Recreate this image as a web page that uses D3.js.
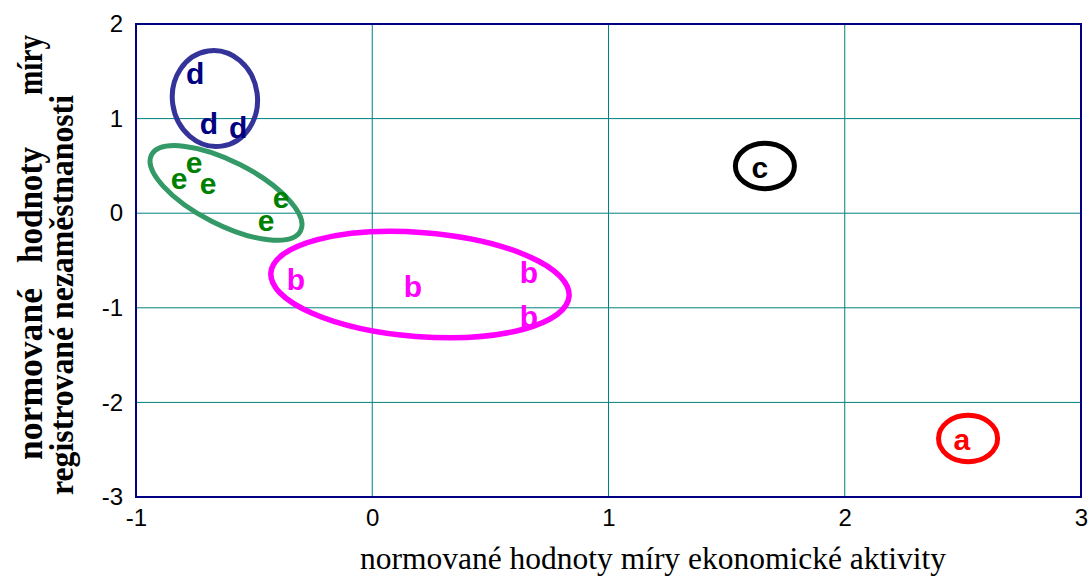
<!DOCTYPE html>
<html lang="cs">
<head>
<meta charset="UTF-8"/>
<title>normované hodnoty</title>
<script src="https://cdn.jsdelivr.net/npm/d3@7/dist/d3.min.js"></script>
<style>
  * { margin: 0; padding: 0; }
  body { background: #fff; width: 1089px; height: 576px; overflow: hidden; }
  svg { display: block; }
  .tick text { font-family: Arial, "Liberation Sans", sans-serif; font-size: 24px; fill: #000; }
  .lbl { font-family: Arial, "Liberation Sans", sans-serif; font-size: 30px; font-weight: bold; }
  .title { font-family: "Times New Roman", "Liberation Serif", serif; fill: #000; }
</style>
</head>
<body>
<div id="chart"></div>
<script>
// --- data ---

const xTicks = [-1, 0, 1, 2, 3]
const yTicks = [-3, -2, -1, 0, 1, 2]

// point labels: group letter + position (x = economic activity, y = unemployment)
const groupCols = { a: '#ff0000', b: '#ff00ff', c: '#000000', d: '#000080', e: '#008000' }
const ringCols  = { a: '#ff0000', b: '#ff00ff', c: '#000000', d: '#333399', e: '#339966' }

const pointGroup = ['d', 'd', 'd', 'e', 'e', 'e', 'e', 'e', 'b', 'b', 'b', 'b', 'c', 'a']
const pointX     = [-0.750, -0.691, -0.568, -0.818, -0.754, -0.695, -0.386, -0.449, -0.323, 0.172, 0.663, 0.663, 1.641, 2.496]
const pointY     = [1.482, 0.943, 0.911, 0.372, 0.541, 0.319, 0.171, -0.082, -0.706, -0.780, -0.632, -1.097, 0.478, -2.387]

// cluster rings: centre, half-extent in axis units, tilt in degrees
const ringGroup = ['d', 'e', 'b', 'c', 'a']
const ringCx    = [-0.666, -0.619, 0.202, 1.662, 2.522]
const ringCy    = [1.212, 0.214, -0.754, 0.499, -2.382]
const ringRx    = [0.180, 0.354, 0.633, 0.125, 0.125]
const ringRy    = [0.508, 0.335, 0.550, 0.240, 0.245]
const ringTilt  = [-8, 27, 4.5, 0, 0]

const xTitle  = 'normované hodnoty míry ekonomické aktivity'
const yTitle1 = ['normované', 'hodnoty', 'míry']
const yTitle2 = 'registrované nezaměstnanosti'

// --- chart ---

const W = 1089, H = 576
const svg = d3.select('#chart').append('svg').attr('width', W).attr('height', H)

const x = d3.scaleLinear().domain([-1, 3]).range([136, 1081])
const y = d3.scaleLinear().domain([-3, 2]).range([497, 24])

// grid
svg.append('g').selectAll('line')
  .data(xTicks.slice(1, -1))
  .join('line')
    .attr('x1', d => x(d)).attr('x2', d => x(d))
    .attr('y1', y(2)).attr('y2', y(-3))
    .attr('stroke', '#008080').attr('stroke-width', 1)

svg.append('g').selectAll('line')
  .data(yTicks.slice(1, -1))
  .join('line')
    .attr('x1', x(-1)).attr('x2', x(3))
    .attr('y1', d => y(d)).attr('y2', d => y(d))
    .attr('stroke', '#008080').attr('stroke-width', 1)

// frame
svg.append('rect')
  .attr('x', x(-1)).attr('y', y(2))
  .attr('width', x(3) - x(-1)).attr('height', y(-3) - y(2))
  .attr('fill', 'none').attr('stroke', '#000080').attr('stroke-width', 2)

// axes (labels only)
const gx = svg.append('g')
  .attr('transform', `translate(0,${y(-3)})`)
  .call(d3.axisBottom(x).tickValues(xTicks).tickSize(0).tickPadding(12).tickFormat(d3.format('d')))
gx.select('.domain').remove()

const gy = svg.append('g')
  .attr('transform', `translate(${x(-1)},0)`)
  .call(d3.axisLeft(y).tickValues(yTicks).tickSize(0).tickPadding(13).tickFormat(d3.format('d')))
gy.select('.domain').remove()

// plain hyphen for negatives, like the original
svg.selectAll('.tick text').text(d => String(d))

// rings
const sx = x(1) - x(0), sy = y(0) - y(1)
svg.append('g').selectAll('ellipse')
  .data(ringGroup.map((g, i) => ({ g, cx: ringCx[i], cy: ringCy[i], rx: ringRx[i], ry: ringRy[i], t: ringTilt[i] })))
  .join('ellipse')
    .attr('transform', d => `translate(${x(d.cx)},${y(d.cy)}) rotate(${d.t})`)
    .attr('rx', d => d.rx * sx)
    .attr('ry', d => d.ry * sy)
    .attr('fill', 'none')
    .attr('stroke', d => ringCols[d.g])
    .attr('stroke-width', d => d.g === 'b' ? 5.5 : 5)

// letters
svg.append('g').selectAll('text')
  .data(pointGroup.map((g, i) => ({ g, vx: pointX[i], vy: pointY[i] })))
  .join('text')
    .attr('class', 'lbl')
    .attr('x', d => x(d.vx))
    .attr('y', d => y(d.vy))
    .attr('text-anchor', 'middle')
    .attr('dominant-baseline', 'central')
    .attr('fill', d => groupCols[d.g])
    .text(d => d.g)

// x title
svg.append('text')
  .attr('class', 'title')
  .attr('x', 653).attr('y', 569)
  .attr('text-anchor', 'middle')
  .attr('font-size', 31.5)
  .text(xTitle)

// y title, two lines; first line is spread over the full height
const t1Spans = [[460, 288], [263, 147], [95, 35]]
yTitle1.forEach((w, i) => {
  const [b, t] = t1Spans[i]
  svg.append('text')
    .attr('class', 'title')
    .attr('transform', `translate(42,${b}) rotate(-90)`)
    .attr('font-size', 35).attr('font-weight', 'bold')
    .attr('textLength', b - t).attr('lengthAdjust', 'spacingAndGlyphs')
    .text(w)
})

svg.append('text')
  .attr('class', 'title')
  .attr('transform', 'translate(73,495) rotate(-90)')
  .attr('font-size', 34).attr('font-weight', 'bold')
  .attr('textLength', 400).attr('lengthAdjust', 'spacingAndGlyphs')
  .text(yTitle2)
</script>
</body>
</html>
